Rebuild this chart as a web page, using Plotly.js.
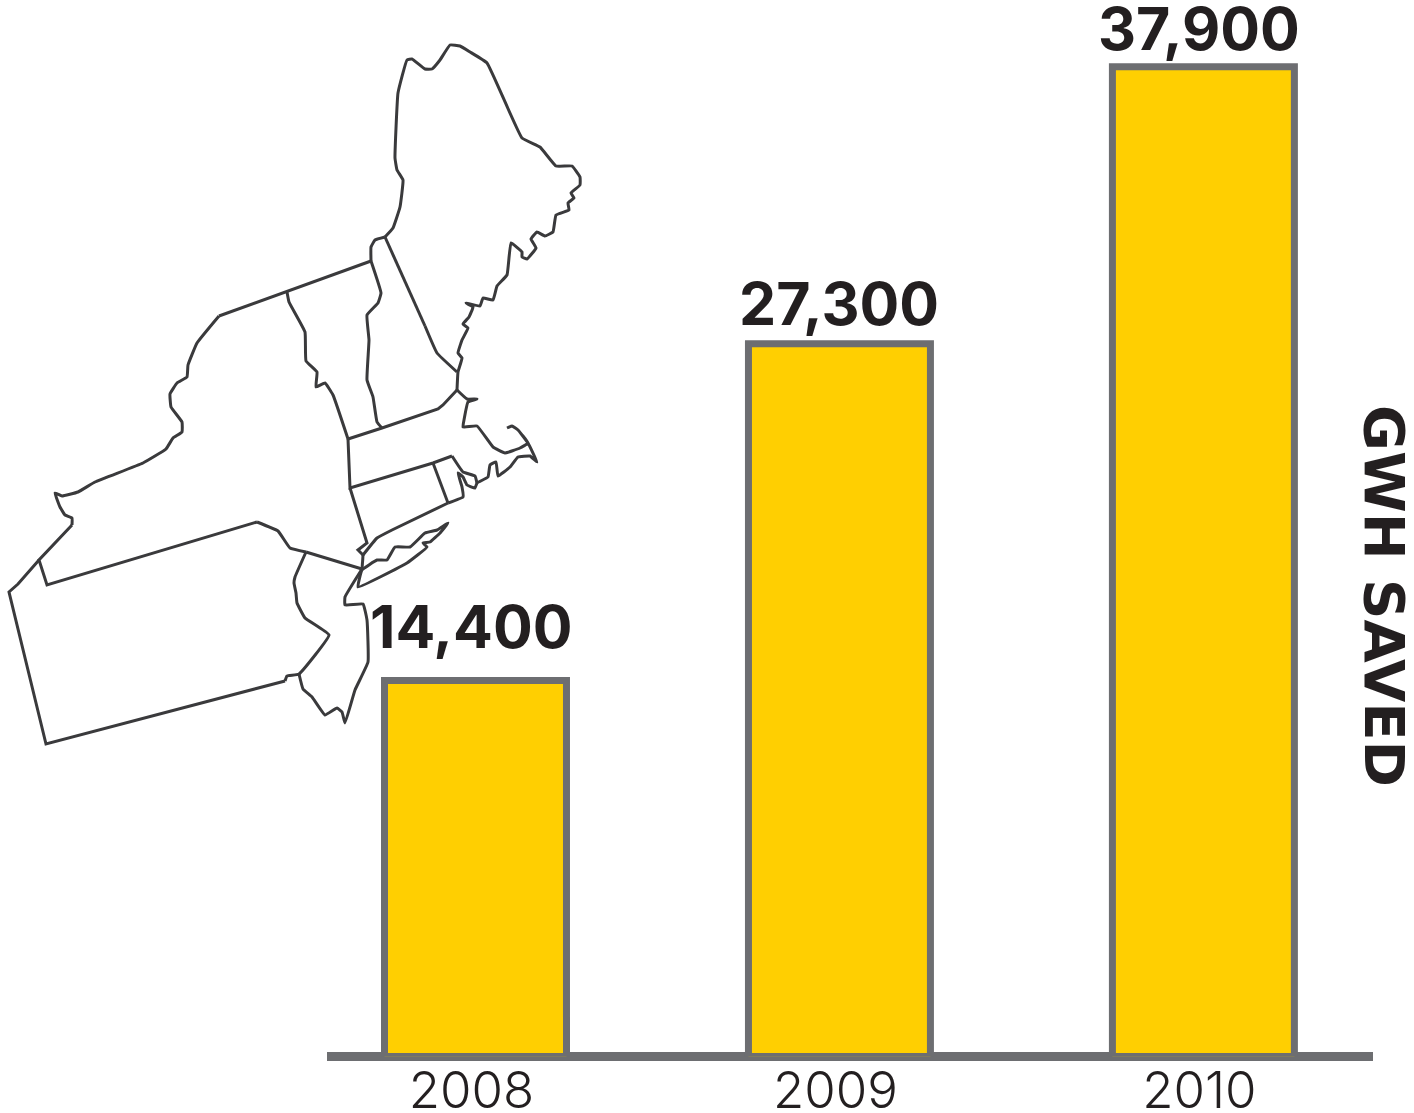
<!DOCTYPE html>
<html>
<head>
<meta charset="utf-8">
<script src="https://cdn.plot.ly/plotly-3.0.1.min.js"></script>
<style>html,body{margin:0;padding:0;background:#fff}#chart{width:1414px;height:1113px}</style>
</head>
<body>
<div id="chart"></div>
<script>
var years = ['2008', '2009', '2010'];
var gwhSaved = [14400, 27300, 37900];
var valueLabels = ['14,400', '27,300', '37,900'];
var labelShiftsX = [-4, 0, -4];
var labelShiftsY = [16, 3, 1];
var unitLabel = 'GWH SAVED';

// Outline of the north-eastern states, in image units.
// Winding borders and coasts:
var maineCoast = [[385,237],[393,228],[400,207],[403,180],[397,170],[395,158],[398,93],[407,60],[412,59],[425,69],[432,69],[440,60],[450,45],[460,46],[470,52],[487,63],[522,138],[540,147],[556,166],[572,166],[580,177],[580,185],[571,193],[574,198],[568,203],[569,210],[556,215],[553,232],[545,236],[537,232],[531,239],[536,248],[527,259],[522,257],[522,252],[511,243],[507,275],[497,286],[493,300],[483,298],[480,306],[466,303],[473,307],[469,317],[463,324],[468,328],[462,340],[458,353],[462,358],[458,372],[457,390]];
var newHampshireEast = [[425,326],[437,353],[457,372]];
var vermontNH = [[371,261],[381,293],[378,303],[367,315],[369,340],[367,380],[373,397],[377,422],[382,428]];
var nhTop = [[371,261],[371,247],[375,240],[385,237]];
var vermontNY = [[287,292],[289,302],[305,332],[306,361],[317,372],[316,387],[325,383],[333,395],[348,439]];
var massachusettsCoast = [[457,390],[467,399],[477,399],[468,402],[464,420],[463,427],[477,426],[493,447],[505,453],[520,448],[528,443],[518,430],[512,426],[507,428],[512,426],[518,430],[528,443],[537,462],[530,456],[518,457],[510,467],[498,476],[496,462],[490,465],[488,477],[477,483],[475,488],[467,485],[463,477],[458,473],[462,487],[463,497],[448,503]];
var massachusettsBay = [[452,456],[463,472],[475,476],[477,483]];
var longIsland = [[362,570],[377,560],[387,560],[395,547],[410,547],[425,533],[437,530],[448,523],[440,533],[430,542],[423,543],[427,547],[407,563],[358,587],[362,570]];
var newYorkLakes = [[219,316],[197,343],[188,365],[187,377],[177,383],[170,394],[171,407],[182,422],[182,432],[173,438],[166,449],[143,463],[95,482],[78,492],[62,496],[55,493],[60,507],[65,515],[72,518],[72,525]];
var newYorkDelaware = [[257,522],[278,531],[290,548],[306,552]];
var pennsylvaniaEast = [[285,681],[287,676],[299,674],[329,635],[305,618],[297,603],[296,593],[294,583],[295,577],[306,552]];
var newJersey = [[362,569],[345,597],[345,605],[363,604],[367,620],[368,662],[355,690],[345,723],[342,712],[337,708],[325,715],[312,697],[303,689],[299,674]];
var connecticutCoast = [[363,555],[377,538],[392,530],[448,503]];

// Straight borders:
var newHampshireLine = [[385,237],[425,326]];
var massachusettsNorth = [[348,439],[382,428],[438,409],[443,405],[457,390]];
var massachusettsSouth = [[348,439],[350,488],[433,463],[452,456]];
var rhodeIsland = [[433,463],[448,503]];
var connecticutWest = [[350,488],[367,543],[358,550],[363,555]];
var hudson = [[363,555],[362,570]];
var newYorkNorth = [[371,261],[219,316]];
var newYorkSouth = [[72,525],[39,560],[47,585],[257,522]];
var newYorkJersey = [[306,552],[362,569]];
var pennsylvaniaOuter = [[39,560],[18,584],[9,592],[46,744],[285,681]];

var winding = [maineCoast, newHampshireEast, vermontNH, nhTop, vermontNY, massachusettsCoast, massachusettsBay, longIsland, newYorkLakes, newYorkDelaware, pennsylvaniaEast, newJersey, connecticutCoast];
var straight = [newHampshireLine, massachusettsNorth, massachusettsSouth, rhodeIsland, connecticutWest, hudson, newYorkNorth, newYorkSouth, newYorkJersey, pennsylvaniaOuter];

var traces = [{
  type: 'bar',
  x: years,
  y: gwhSaved,
  width: 0.5,
  marker: {color: '#ffcf01', line: {color: '#6d6e71', width: 7}},
  hoverinfo: 'x+y',
  showlegend: false
}];

function addMapPart(part, lineStyle) {
  traces.push({
    type: 'scatter',
    mode: 'lines',
    xaxis: 'x2',
    yaxis: 'y2',
    x: part.map(function (p) { return p[0]; }),
    y: part.map(function (p) { return p[1]; }),
    line: lineStyle,
    hoverinfo: 'skip',
    showlegend: false
  });
}
winding.forEach(function (part) { addMapPart(part, {color: '#3a3a3c', width: 3, shape: 'spline', smoothing: 0.3}); });
straight.forEach(function (part) { addMapPart(part, {color: '#3a3a3c', width: 3, shape: 'linear'}); });

var annotations = years.map(function (y, i) {
  return {
    x: i, y: gwhSaved[i], xref: 'x', yref: 'y',
    text: valueLabels[i], showarrow: false,
    xanchor: 'center', yanchor: 'bottom', xshift: labelShiftsX[i], yshift: labelShiftsY[i],
    font: {family: 'Inter, sans-serif', size: 59, weight: 700, color: '#231f20'}
  };
});
annotations.push({
  x: 1385, y: 596, xref: 'x2', yref: 'y2',
  text: unitLabel, showarrow: false, textangle: 90,
  xanchor: 'center', yanchor: 'middle',
  font: {family: 'DejaVu Sans, sans-serif', size: 56, weight: 700, color: '#231f20'}
});

var layout = {
  width: 1414,
  height: 1113,
  margin: {l: 0, r: 0, t: 0, b: 0, pad: 0},
  paper_bgcolor: '#ffffff',
  plot_bgcolor: 'rgba(0,0,0,0)',
  showlegend: false,
  xaxis: {
    domain: [327 / 1414, 1373 / 1414],
    type: 'category',
    range: [-0.408, 2.466],
    showgrid: false,
    zeroline: false,
    showline: false,
    ticks: '',
    ticklabelshift: -4,
    ticklabelstandoff: -1,
    tickfont: {family: 'Inter, sans-serif', size: 51, weight: 300, color: '#231f20'},
    automargin: false
  },
  yaxis: {
    domain: [(1113 - 1056.5) / 1113, 1],
    range: [0, 40460],
    showgrid: false,
    showticklabels: false,
    ticks: '',
    showline: false,
    zeroline: true,
    zerolinecolor: '#6d6e71',
    zerolinewidth: 9,
    automargin: false
  },
  xaxis2: {domain: [0, 1], range: [0, 1414], anchor: 'y2', visible: false, fixedrange: true},
  yaxis2: {domain: [0, 1], range: [1113, 0], anchor: 'x2', visible: false, fixedrange: true},
  annotations: annotations
};

Plotly.newPlot('chart', traces, layout, {displayModeBar: false, staticPlot: true});
</script>
</body>
</html>
